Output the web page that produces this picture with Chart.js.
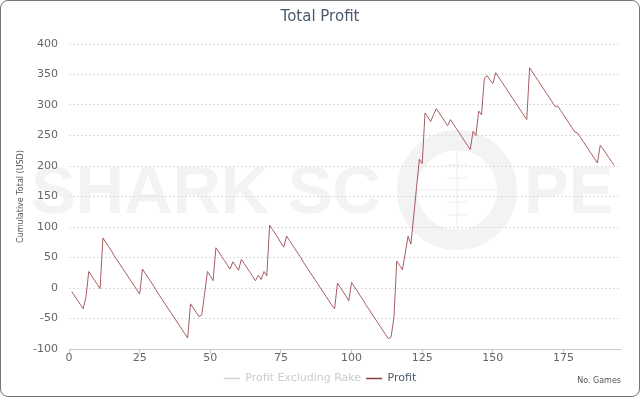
<!DOCTYPE html>
<html>
<head>
<meta charset="utf-8">
<script src="https://cdn.jsdelivr.net/npm/chart.js@4"></script>
<style>
html, body { margin: 0; padding: 0; background: #fff; }
#wrap { position: relative; width: 640px; height: 397px; }
#frame { position: absolute; left: 0; top: 0; width: 640px; height: 397px; box-sizing: border-box; border: 1px solid #777; border-radius: 8px; pointer-events: none; }
</style>
</head>
<body>
<div id="wrap">
<canvas id="grafico-lucro" width="640" height="397"></canvas>
<div id="frame"></div>
</div>
<script>
// cumulative profit after each game (game 1 .. 193)
const profit = [
  -6, -13, -20, -27, -34, -15, 27, 20, 13, 6,
  -1, 82, 75, 68, 61, 53, 46, 39, 32, 25,
  18, 11, 4, -3, -10, 31, 24, 17, 10, 3,
  -5, -12, -19, -26, -33, -40, -47, -54, -61, -68,
  -75, -82, -26, -33, -40, -47, -44, -9, 27, 20,
  12, 66, 59, 52, 45, 38, 31, 43, 36, 29,
  47, 40, 33, 26, 19, 12, 21, 14, 27, 20,
  103, 96, 89, 82, 74, 67, 85, 78, 71, 64,
  57, 50, 42, 35, 28, 21, 14, 7, 0, -7,
  -14, -21, -28, -34, 8, 1, -6, -13, -21, 9,
  2, -5, -12, -19, -27, -34, -41, -48, -55, -62,
  -69, -76, -83, -80, -48, 44, 37, 30, 57, 85,
  72, 118, 165, 211, 204, 287, 280, 273, 284, 294,
  287, 280, 273, 266, 276, 269, 262, 255, 248, 241,
  234, 227, 257, 250, 290, 284, 344, 348, 341, 335,
  353, 346, 339, 332, 325, 318, 311, 304, 297, 290,
  283, 276, 361, 354, 347, 340, 333, 326, 319, 312,
  305, 298, 298, 291, 284, 277, 270, 263, 256, 254,
  247, 240, 233, 226, 219, 212, 205, 234, 228, 221,
  214, 207, 201
];
// the rake-free series is switched off in the original, nothing of it is drawn
const profitExRake = [];

const xTicks = [0, 25, 50, 75, 100, 125, 150, 175];
const yTicks = [-100, -50, 0, 50, 100, 150, 200, 250, 300, 350, 400];

const fonte = '"DejaVu Sans", sans-serif';

// faint SharkScope watermark behind the grid
const marcaDagua = {
  id: 'marcaDagua',
  beforeDraw(chart) {
    const ctx = chart.ctx;
    ctx.save();
    ctx.fillStyle = '#f3f3f3';
    ctx.strokeStyle = '#f3f3f3';
    ctx.font = 'bold 67px "Liberation Sans", sans-serif';
    ctx.textBaseline = 'alphabetic';
    ctx.fillText('SHARK SC', 31, 213);
    ctx.fillText('PE', 524, 213);
    ctx.lineWidth = 20;
    ctx.beginPath();
    ctx.arc(457, 190, 50, 0, Math.PI * 2);
    ctx.stroke();
    ctx.lineWidth = 1.5;
    ctx.beginPath();
    ctx.moveTo(457, 140); ctx.lineTo(457, 240);
    ctx.moveTo(407, 190); ctx.lineTo(507, 190);
    [150, 165, 178, 202, 215, 230].forEach(y => {
      ctx.moveTo(447, y); ctx.lineTo(467, y);
    });
    ctx.stroke();
    ctx.restore();
  }
};

// "No. Games" sits on the legend row, at the right
const tituloX = {
  id: 'tituloX',
  afterDraw(chart) {
    const ctx = chart.ctx;
    const leg = chart.legend;
    ctx.save();
    ctx.font = '8px ' + fonte;
    ctx.fillStyle = '#555';
    ctx.textAlign = 'right';
    ctx.textBaseline = 'middle';
    ctx.fillText('No. Games', 621, leg.top + leg.height / 2);
    ctx.restore();
  }
};

const config = {
  type: 'line',
  data: {
    datasets: [{
      label: 'Profit Excluding Rake',
      data: profitExRake,
      borderColor: '#e8b8b8',
      hidden: true
    }, {
      label: 'Profit',
      data: profit.map((v, i) => ({ x: i + 1, y: v })),
      borderColor: '#a85a62',
      borderWidth: 1,
      pointRadius: 0,
      tension: 0
    }]
  },
  options: {
    responsive: false,
    animation: false,
    layout: { padding: { left: 0, right: 0, top: 0, bottom: 3 } },
    plugins: {
      title: {
        display: true,
        text: 'Total Profit',
        color: '#4a5a6b',
        font: { family: fonte, size: 15, weight: 'normal' },
        padding: { top: 8, bottom: 18 }
      },
      legend: {
        position: 'bottom',
        labels: {
          usePointStyle: true,
          pointStyleWidth: 16,
          padding: 5,
          font: { family: fonte, size: 11 },
          generateLabels: chart => chart.data.datasets.map((ds, i) => {
            const on = chart.isDatasetVisible(i);
            return {
              text: ds.label,
              datasetIndex: i,
              hidden: false,
              pointStyle: 'line',
              lineWidth: 1.5,
              strokeStyle: on ? '#8b3a3e' : '#d0d0d0',
              fillStyle: on ? '#8b3a3e' : '#d0d0d0',
              fontColor: on ? '#4a5a6b' : '#cccccc'
            };
          })
        }
      },
      tooltip: { enabled: false }
    },
    scales: {
      x: {
        type: 'linear',
        min: 0,
        max: 195,
        afterBuildTicks: scale => { scale.ticks = xTicks.map(v => ({ value: v })); },
        afterFit: scale => { scale.height = 19; },
        grid: { drawOnChartArea: false, drawTicks: true, tickLength: 5, color: '#c8c8c8' },
        border: { display: true, color: '#c8c8c8' },
        ticks: { color: '#666', font: { family: fonte, size: 11 }, padding: -2, maxRotation: 0 }
      },
      y: {
        min: -100,
        max: 400,
        afterBuildTicks: scale => { scale.ticks = yTicks.map(v => ({ value: v })); },
        afterFit: scale => { scale.width = 69; },
        grid: { color: '#dcdcdc', drawTicks: false },
        border: { display: false, dash: [2, 2] },
        ticks: { color: '#666', font: { family: fonte, size: 11 }, padding: 11 },
        title: {
          display: true,
          text: 'Cumulative Total (USD)',
          color: '#555',
          font: { family: fonte, size: 8 },
          padding: { top: 16 }
        }
      },
      y2: {
        position: 'right',
        display: true,
        afterFit: scale => { scale.width = 20; },
        grid: { display: false },
        border: { display: false },
        ticks: { display: false }
      }
    }
  },
  plugins: [marcaDagua, tituloX]
};

const graficoLucro = new Chart(document.getElementById('grafico-lucro'), config);
</script>
</body>
</html>
